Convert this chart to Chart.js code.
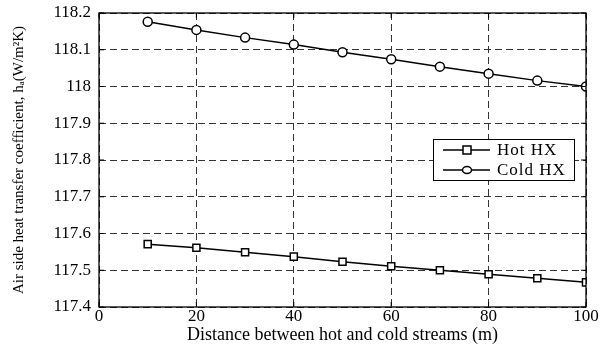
<!DOCTYPE html>
<html lang="en">
<head>
  <meta charset="UTF-8" />
  <title>Air side heat transfer coefficient</title>
  <script src="https://cdn.jsdelivr.net/npm/chart.js"></script>
  <style>
    html, body { margin: 0; padding: 0; background: #fff; }
    #wrap { position: relative; width: 603px; height: 346px; }
  </style>
</head>
<body>
  <div id="wrap"><canvas id="chart"></canvas></div>
  <script>
    // data
    const distances = [10, 20, 30, 40, 50, 60, 70, 80, 90, 100];
    const hotHX = [117.571, 117.561, 117.549, 117.537, 117.523, 117.511, 117.500, 117.489, 117.478, 117.467];
    const coldHX = [118.176, 118.154, 118.133, 118.114, 118.093, 118.074, 118.054, 118.035, 118.016, 118.000];
    const xTicks = [0, 20, 40, 60, 80, 100];
    const yTicks = [117.4, 117.5, 117.6, 117.7, 117.8, 117.9, 118, 118.1, 118.2];

    const serif = "'Liberation Serif', 'DejaVu Serif', serif";

    // box round the plot + legend inside it
    const frame = {
      id: "frame",
      afterDatasetsDraw(chart) {
        const { ctx, chartArea: a } = chart;
        ctx.save();
        ctx.strokeStyle = "#000";
        ctx.lineWidth = 1.3;
        ctx.strokeRect(a.left, a.top, a.right - a.left, a.bottom - a.top);

        // little inward tick marks, matlab style
        ctx.lineWidth = 1;
        const xs = chart.scales.x, ys = chart.scales.y;
        xTicks.forEach(v => {
          const px = xs.getPixelForValue(v);
          ctx.beginPath();
          ctx.moveTo(px, a.bottom); ctx.lineTo(px, a.bottom - 5);
          ctx.moveTo(px, a.top); ctx.lineTo(px, a.top + 5);
          ctx.stroke();
        });
        yTicks.forEach(v => {
          const py = ys.getPixelForValue(v);
          ctx.beginPath();
          ctx.moveTo(a.left, py); ctx.lineTo(a.left + 5, py);
          ctx.moveTo(a.right, py); ctx.lineTo(a.right - 5, py);
          ctx.stroke();
        });

        // legend
        const bx = 433, by = 139, bw = 141, bh = 41;
        ctx.fillStyle = "#fff";
        ctx.fillRect(bx, by, bw, bh);
        ctx.lineWidth = 1;
        ctx.strokeRect(bx + 0.5, by + 0.5, bw, bh);
        const rows = [
          { label: "Hot HX", y: 150, shape: "square" },
          { label: "Cold HX", y: 170, shape: "circle" }
        ];
        rows.forEach(r => {
          ctx.lineWidth = 1.5;
          ctx.beginPath();
          ctx.moveTo(443, r.y); ctx.lineTo(490, r.y);
          ctx.stroke();
          ctx.fillStyle = "#fff";
          ctx.beginPath();
          if (r.shape === "square") ctx.rect(463, r.y - 4, 8, 8);
          else ctx.ellipse(467, r.y, 4.5, 3.5, 0, 0, Math.PI * 2);
          ctx.fill(); ctx.stroke();
          ctx.fillStyle = "#000";
          ctx.font = "17px " + serif;
          ctx.letterSpacing = "1px";
          ctx.textBaseline = "middle";
          ctx.textAlign = "left";
          ctx.fillText(r.label, 497, r.y + 1);
        });
        ctx.restore();
      }
    };

    new Chart(document.getElementById("chart"), {
      type: "line",
      data: {
        datasets: [
          {
            label: "Hot HX",
            data: distances.map((d, i) => ({ x: d, y: hotHX[i] })),
            borderColor: "#000",
            backgroundColor: "#fff",
            borderWidth: 1.5,
            pointStyle: "rect",
            pointRadius: 5,
            pointBorderWidth: 1.5,
            tension: 0
          },
          {
            label: "Cold HX",
            data: distances.map((d, i) => ({ x: d, y: coldHX[i] })),
            borderColor: "#000",
            backgroundColor: "#fff",
            borderWidth: 1.5,
            pointStyle: "circle",
            pointRadius: 4.5,
            pointBorderWidth: 1.5,
            tension: 0
          }
        ]
      },
      options: {
        responsive: true,
        maintainAspectRatio: false,
        animation: false,
        layout: { padding: { top: 13, right: 17, left: 0, bottom: 0 } },
        scales: {
          x: {
            type: "linear",
            min: 0, max: 100,
            afterBuildTicks: s => { s.ticks = xTicks.map(v => ({ value: v })); },
            afterFit: s => { s.height = 39; },
            grid: { color: "#333", lineWidth: 1, drawTicks: false },
            border: { display: false, dash: [7, 4] },
            ticks: { color: "#000", padding: 1, font: { family: serif, size: 17, lineHeight: 1 } },
            title: {
              display: true,
              text: "Distance between hot and cold streams (m)",
              color: "#000",
              font: { family: serif, size: 18 },
              padding: { top: -3, bottom: 0 }
            }
          },
          y: {
            min: 117.4, max: 118.2,
            afterBuildTicks: s => { s.ticks = yTicks.map(v => ({ value: v })); },
            afterFit: s => { s.width = 99; s.paddingTop = 0; s.paddingBottom = 0; },
            grid: { color: "#333", lineWidth: 1, drawTicks: false },
            border: { display: false, dash: [7, 4] },
            ticks: {
              color: "#000",
              padding: 8,
              font: { family: serif, size: 17, lineHeight: 1 },
              callback: v => String(Math.round(v * 10) / 10)
            },
            title: {
              display: true,
              text: "Air side heat transfer coefficient, h\u2090(W/m\u00b2K)",
              color: "#000",
              font: { family: serif, size: 15 },
              padding: { top: 10, bottom: 4 }
            }
          }
        },
        plugins: {
          legend: { display: false },
          tooltip: { enabled: false }
        }
      },
      plugins: [frame]
    });
  </script>
</body>
</html>
